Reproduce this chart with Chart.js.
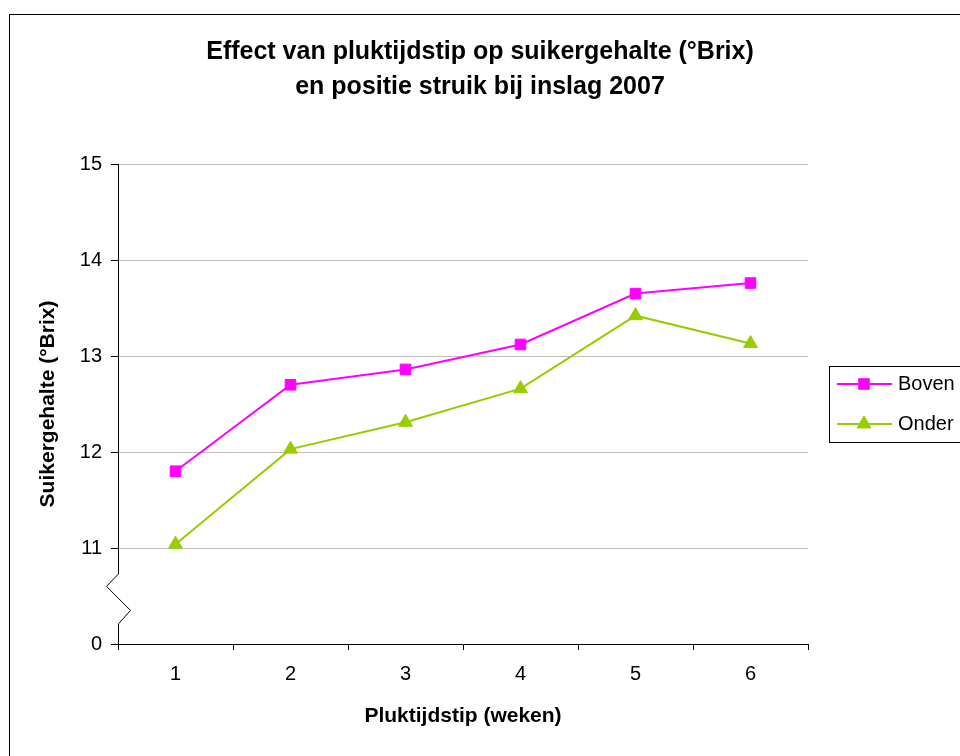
<!DOCTYPE html>
<html>
<head>
<meta charset="utf-8">
<title>Suikergehalte 2007</title>
<script src="https://cdn.jsdelivr.net/npm/chart.js"></script>
<style>
  body { margin: 0; background: #fff; }
  canvas { display: block; }
</style>
</head>
<body>
<canvas id="brixChart" width="960" height="756"></canvas>
<script>
// weeks after harvest start
const weken = ['1', '2', '3', '4', '5', '6'];

// °Brix per position in the bush
const boven = [11.80, 12.70, 12.86, 13.12, 13.65, 13.76];
const onder = [11.04, 12.03, 12.31, 12.66, 13.42, 13.13];

// y ticks; the bottom tick (10) stands for the broken-off 0
const yTicks = [10, 11, 12, 13, 14, 15];
const yTickLabels = ['0', '11', '12', '13', '14', '15'];

const FONT = '"Liberation Sans", Arial, sans-serif';
Chart.defaults.font.family = FONT;
Chart.defaults.color = '#000';

// outer frame, y axis with the break mark, and the boxed legend
const decorations = {
  id: 'decorations',
  beforeDraw(chart) {
    const ctx = chart.ctx;
    ctx.save();
    ctx.fillStyle = '#fff';
    ctx.fillRect(0, 0, chart.width, chart.height);
    ctx.strokeStyle = '#000';
    ctx.lineWidth = 1;
    ctx.strokeRect(9.5, 14.5, chart.width + 10, chart.height + 10);
    ctx.restore();
  },
  afterDraw(chart) {
    const ctx = chart.ctx;
    const y = chart.scales.y;
    const x0 = Math.round(chart.chartArea.left) + 0.5;

    ctx.save();
    ctx.strokeStyle = '#000';
    ctx.lineWidth = 1;
    ctx.beginPath();
    ctx.moveTo(x0, y.getPixelForValue(15));
    ctx.lineTo(x0, y.getPixelForValue(10.73));
    ctx.lineTo(x0 - 12, y.getPixelForValue(10.6));
    ctx.lineTo(x0 + 12, y.getPixelForValue(10.35));
    ctx.lineTo(x0, y.getPixelForValue(10.21));
    ctx.lineTo(x0, y.getPixelForValue(10));
    ctx.stroke();

    // legend
    const lx = 829.5, ly = 366.5;
    ctx.strokeRect(lx, ly, 140, 76);
    ctx.font = '20px ' + FONT;
    ctx.textBaseline = 'middle';
    chart.data.datasets.forEach((ds, i) => {
      const cy = 384 + i * 40;
      ctx.strokeStyle = ds.borderColor;
      ctx.lineWidth = 2;
      ctx.beginPath();
      ctx.moveTo(837, cy);
      ctx.lineTo(892, cy);
      ctx.stroke();
      ctx.fillStyle = ds.backgroundColor;
      ctx.lineWidth = 1;
      Chart.helpers.drawPoint(ctx, {
        pointStyle: ds.pointStyle,
        radius: ds.pointRadius,
        borderWidth: 1,
        rotation: 0
      }, 864, cy);
      ctx.fillStyle = '#000';
      ctx.fillText(ds.label, 898, cy);
    });
    ctx.restore();
  }
};

new Chart(document.getElementById('brixChart'), {
  type: 'line',
  data: {
    labels: weken,
    datasets: [
      {
        label: 'Boven',
        data: boven,
        borderColor: '#ff00ff',
        backgroundColor: '#ff00ff',
        borderWidth: 2,
        pointStyle: 'rect',
        pointRadius: 7.5,
        pointBorderWidth: 1,
        tension: 0
      },
      {
        label: 'Onder',
        data: onder,
        borderColor: '#99cc00',
        backgroundColor: '#99cc00',
        borderWidth: 2,
        pointStyle: 'triangle',
        pointRadius: 8,
        pointBorderWidth: 1,
        tension: 0
      }
    ]
  },
  options: {
    responsive: false,
    animation: false,
    events: [],
    layout: { padding: 0 },
    plugins: {
      legend: { display: false },
      tooltip: { enabled: false },
      title: {
        display: true,
        text: ['Effect van pluktijdstip op suikergehalte (°Brix)', 'en positie struik bij inslag 2007'],
        font: { size: 25, weight: 'bold', lineHeight: 1.4 },
        color: '#000',
        padding: { top: 34.5, bottom: 59.5 }
      }
    },
    scales: {
      x: {
        type: 'category',
        offset: true,
        grid: {
          offset: true,
          drawOnChartArea: false,
          drawTicks: true,
          tickLength: 6,
          tickColor: '#000'
        },
        border: { color: '#000', width: 1 },
        ticks: { font: { size: 20 }, color: '#000', padding: 12 },
        title: {
          display: true,
          text: 'Pluktijdstip (weken)',
          font: { size: 21, weight: 'bold' },
          color: '#000',
          padding: { top: 0, bottom: 27 }
        },
        afterFit(scale) { scale.height = 112; }
      },
      y: {
        min: 10,
        max: 15,
        afterBuildTicks(scale) {
          scale.ticks = yTicks.map(v => ({ value: v }));
        },
        ticks: {
          font: { size: 20 },
          color: '#000',
          padding: 9,
          callback: (v) => yTickLabels[yTicks.indexOf(v)]
        },
        grid: {
          color: (c) => (c.tick && c.tick.value === 10) ? 'rgba(0,0,0,0)' : '#c0c0c0',
          tickColor: '#000',
          tickLength: 7,
          lineWidth: 1
        },
        border: { display: false },
        title: {
          display: true,
          text: 'Suikergehalte (°Brix)',
          font: { size: 21, weight: 'bold' },
          color: '#000',
          padding: { top: 36, bottom: 0 }
        },
        afterFit(scale) { scale.width = 118; }
      },
      // empty right-hand strip that leaves room for the legend
      legendSpace: {
        position: 'right',
        min: 10,
        max: 15,
        ticks: { display: false },
        grid: { display: false, drawTicks: false },
        border: { display: false },
        afterFit(scale) { scale.width = 152; }
      }
    }
  },
  plugins: [decorations]
});
</script>
</body>
</html>
